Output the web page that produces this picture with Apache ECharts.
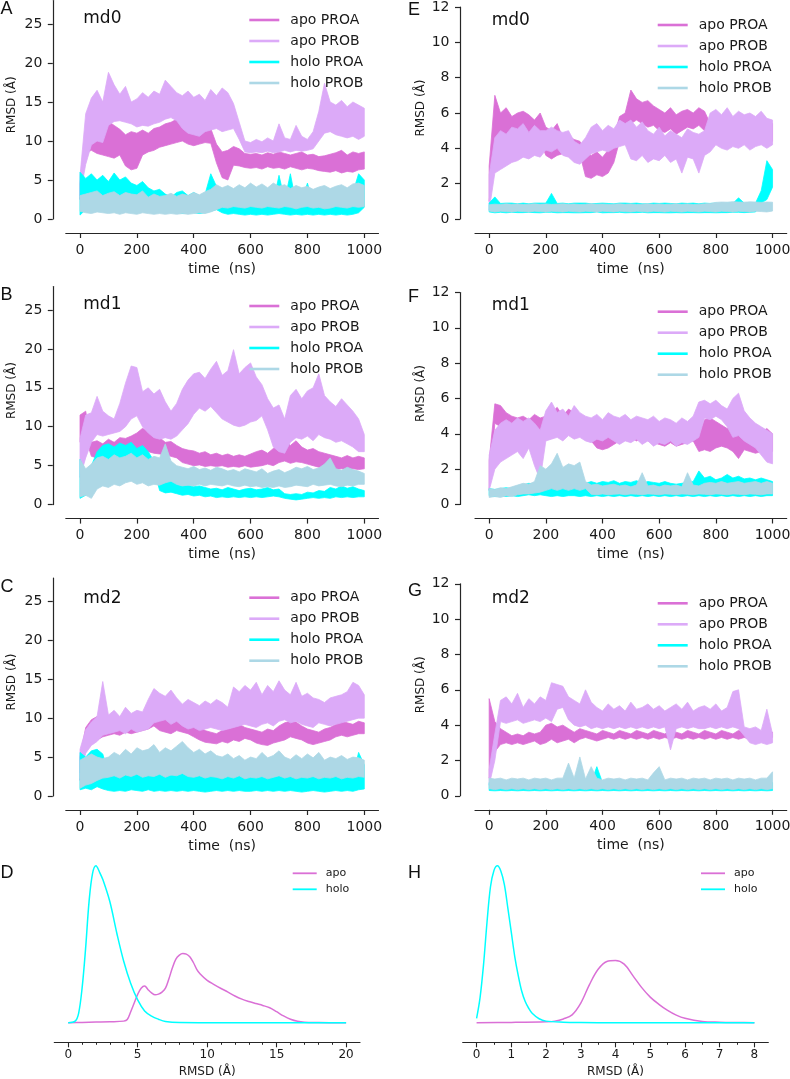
<!DOCTYPE html>
<html>
<head>
<meta charset="utf-8">
<script src="https://cdn.jsdelivr.net/npm/echarts/dist/echarts.min.js"></script>
<style>html,body{margin:0;padding:0;background:#fff}#chart{width:790px;height:1079px}</style>
</head>
<body>
<div id="chart"></div>
<script>
// ---------- data (RMSD noise band: lower / upper edge every 20 ns) ----------
const timeNs = [0,20,40,60,80,100,120,140,160,180,200,220,240,260,280,300,320,340,360,380,400,420,440,460,480,500,520,540,560,580,600,620,640,660,680,700,720,740,760,780,800,820,840,860,880,900,920,940,960,980,1000];
const seriesNames = ['apo PROA','apo PROB','holo PROA','holo PROB'];
const timeTicks = [0,200,400,600,800,1000];
const leftYTicks = [0,5,10,15,20,25];
const rightYTicks = [0,2,4,6,8,10,12];
const densDTicks = [0,5,10,15,20];
const densDMinorTicks = [0,1,2,3,4,5,6,7,8,9,10,11,12,13,14,15,16,17,18,19,20];
const densHTicks = [0,1,2,3,4,5,6,7,8];
const densHMinorTicks = [0,0.5,1,1.5,2,2.5,3,3.5,4,4.5,5,5.5,6,6.5,7,7.5,8];

// ----- A: md0, apo/holo, 0-28 Å -----
const A_apoA_lo = [2.5,8.5,8.8,8.4,8.2,8.0,7.8,8.2,6.8,6.3,
 6.5,8.2,8.6,8.8,9.2,9.4,9.6,9.8,10.0,9.6,
 9.4,9.6,9.8,9.7,7.2,5.3,5.0,6.9,6.8,6.6,
 6.5,6.6,6.4,6.7,6.5,6.6,6.4,6.7,6.5,6.3,
 6.5,6.4,6.2,6.1,6.0,6.2,5.9,6.1,6.0,6.3,
 6.4];
const A_apoA_hi = [4.5,11.5,11.2,10.8,11.5,12.5,12.0,11.5,10.8,11.2,
 11.0,11.4,11.0,11.6,11.8,12.2,12.4,12.8,12.2,11.8,
 11.6,11.8,12.0,11.6,9.6,8.6,8.8,9.3,9.0,8.4,
 8.3,8.4,8.2,8.5,8.3,8.6,8.4,8.2,8.4,8.6,
 8.2,8.3,8.0,8.1,8.3,8.5,8.8,8.2,8.6,8.4,
 8.6];
const A_apoB_lo = [3.0,7.0,9.5,10.0,9.8,12.0,12.5,12.6,12.4,12.2,
 11.8,12.0,11.9,12.2,12.4,12.8,13.0,12.6,11.6,11.0,
 10.8,10.6,11.2,11.4,11.6,11.2,11.4,11.6,10.2,8.6,
 8.5,8.6,8.5,8.7,8.5,8.6,8.8,8.6,8.8,8.7,
 8.8,9.0,10.0,11.0,11.2,10.8,10.6,10.4,10.6,10.2,
 10.6];
const A_apoB_hi = [5.5,13.5,15.5,16.5,15.0,18.8,17.2,16.0,17.0,15.0,
 15.4,16.2,15.6,16.4,16.0,17.8,17.0,16.2,15.8,16.4,
 15.6,16.0,15.2,16.6,15.8,16.8,16.2,14.8,12.4,10.0,
 9.8,10.2,9.9,10.4,10.0,12.2,10.4,10.2,12.0,10.6,
 10.2,11.2,13.8,17.4,15.0,14.6,15.2,14.4,15.0,14.6,
 14.2];
const A_holoA_lo = [0.5,1.2,2.0,1.5,2.2,1.6,2.0,1.8,1.5,1.7,
 1.4,1.2,1.3,1.0,0.9,1.0,0.8,0.9,0.7,0.8,
 0.8,0.7,0.8,1.0,1.2,0.8,0.6,0.7,0.6,0.5,
 0.6,0.5,0.6,0.5,0.6,0.7,0.6,0.5,0.6,0.5,
 0.6,0.5,0.6,0.5,0.6,0.5,0.6,0.5,0.6,0.8,
 1.5];
const A_holoA_hi = [6.0,5.2,5.8,5.0,5.6,4.8,5.9,5.0,5.4,4.6,
 4.3,4.8,4.0,3.6,3.8,3.2,2.8,3.4,3.6,3.0,
 3.4,3.0,3.2,5.8,4.2,2.2,2.0,2.4,2.0,1.8,
 2.2,1.9,2.0,3.5,2.2,5.6,2.4,5.8,2.0,2.2,
 4.6,2.0,1.8,2.0,2.2,1.9,2.6,2.8,3.4,5.8,
 5.0];
const A_holoB_lo = [1.0,0.8,0.7,0.9,0.8,0.7,0.8,0.6,0.8,0.7,
 0.6,0.8,0.7,0.6,0.7,0.6,0.7,0.6,0.7,0.6,
 0.7,0.8,0.7,0.9,1.2,1.5,1.4,1.6,1.5,1.4,
 1.6,1.5,1.4,1.6,1.5,1.4,1.6,1.5,1.3,1.5,
 1.6,1.4,1.5,1.3,1.4,1.6,1.5,1.4,1.6,1.5,
 1.6];
const A_holoB_hi = [3.0,3.2,3.4,3.6,3.0,3.3,3.5,3.0,3.4,3.2,
 3.1,3.6,2.8,3.2,2.9,3.0,3.3,2.9,3.2,3.0,
 3.4,3.1,3.5,3.8,4.4,4.0,4.3,3.9,4.4,4.0,
 4.6,4.1,4.5,4.0,4.6,4.2,4.4,3.9,4.3,4.0,
 4.2,3.8,4.1,4.3,3.9,4.2,4.4,4.0,4.5,4.6,
 4.3];

// ----- B: md1 -----
const B_apoA_lo = [8.0,8.5,6.2,6.0,6.4,6.2,6.5,6.4,6.8,6.6,
 6.8,7.0,6.8,6.6,6.5,6.4,6.2,6.0,5.4,5.2,
 5.0,5.1,4.9,5.0,4.9,5.0,4.8,4.9,4.8,5.0,
 4.8,4.9,5.0,5.2,5.0,5.4,5.6,5.3,5.5,5.4,
 5.2,5.0,4.8,4.9,4.6,4.5,4.6,4.5,4.6,4.5,
 4.6];
const B_apoA_hi = [11.5,12.0,8.0,8.2,7.8,8.4,8.0,8.6,8.5,8.8,
 9.2,9.8,9.4,8.8,8.6,8.0,8.1,7.6,7.2,7.0,
 6.9,6.6,6.8,6.4,6.6,6.3,6.5,6.2,6.4,6.2,
 6.5,6.8,7.0,6.6,7.2,8.0,8.3,7.6,8.2,7.4,
 7.0,7.2,6.8,6.6,6.4,6.2,6.0,6.3,6.0,6.2,
 6.0];
const B_apoB_lo = [3.5,6.0,8.0,9.0,8.8,9.0,9.2,9.4,10.0,11.0,
 11.4,10.0,9.2,8.6,8.4,8.6,8.4,8.8,9.6,10.4,
 11.6,12.4,12.0,12.6,11.8,11.0,10.6,10.2,10.0,10.2,
 10.6,10.8,11.4,9.6,7.4,6.8,6.6,8.0,8.6,8.4,
 8.8,8.2,9.0,8.6,8.4,8.0,8.2,7.8,7.4,6.8,
 6.8];
const B_apoB_hi = [8.5,11.5,11.8,13.9,12.0,11.4,11.0,13.0,15.6,17.8,
 17.6,14.5,15.0,14.2,14.8,13.2,12.0,13.0,14.8,16.0,
 16.8,17.0,16.2,17.4,18.4,16.6,17.2,19.9,16.8,17.6,
 18.2,16.4,15.4,13.6,12.4,12.8,11.0,14.0,14.8,13.6,
 14.6,15.0,16.8,14.0,13.2,12.6,13.6,12.8,12.0,11.0,
 9.0];
const B_holoA_lo = [0.8,1.2,1.4,3.0,4.2,4.6,5.0,4.8,5.2,5.0,
 5.4,5.0,4.8,4.6,1.8,1.5,1.6,1.4,1.2,1.3,
 1.1,1.2,1.0,1.1,0.9,1.0,0.9,1.0,0.9,1.0,
 0.9,1.0,0.9,1.0,1.1,1.0,0.8,0.7,0.6,0.7,
 0.8,0.9,0.8,0.9,0.8,1.0,0.9,1.0,0.9,1.0,
 1.0];
const B_holoA_hi = [5.8,4.0,5.0,6.8,7.6,7.8,7.4,7.9,7.6,8.0,
 7.2,7.6,6.8,5.6,3.2,2.8,3.6,2.6,2.4,2.5,
 2.3,2.4,2.2,2.0,2.1,1.9,2.2,2.0,1.8,2.0,
 2.1,1.9,2.0,2.2,1.9,2.0,1.4,1.3,1.4,1.3,
 1.6,1.5,1.8,1.7,2.2,2.0,2.4,2.1,2.3,2.0,
 1.8];
const B_holoB_lo = [1.0,1.2,0.8,2.0,2.4,2.2,2.6,2.4,2.8,3.0,
 2.6,2.8,2.4,2.6,2.5,2.8,3.0,2.6,2.4,2.5,
 2.4,2.6,2.4,2.6,2.5,2.4,2.6,2.4,2.3,2.5,
 2.3,2.4,2.2,2.3,2.2,2.4,2.2,2.3,2.5,2.4,
 2.3,2.6,2.4,2.5,2.6,2.4,2.3,2.5,2.4,2.6,
 2.6];
const B_holoB_hi = [5.8,4.6,5.2,6.0,6.2,5.8,6.4,6.0,6.2,6.6,
 6.0,6.4,5.8,6.2,6.0,7.8,5.6,5.0,4.8,4.6,
 4.9,4.5,4.7,4.4,4.8,4.6,4.3,4.5,4.2,4.6,
 4.4,4.2,4.6,4.0,4.3,4.5,4.1,4.4,4.8,4.6,
 4.9,4.5,4.7,5.2,6.0,4.6,4.4,4.8,4.5,4.3,
 4.0];

// ----- C: md2 -----
const C_apoA_lo = [2.0,6.0,6.6,7.2,7.6,7.8,8.0,7.8,8.2,8.0,
 8.2,8.4,8.6,9.0,8.4,8.2,8.0,8.4,8.2,8.0,
 7.6,7.2,6.9,6.8,6.7,7.0,6.8,7.2,7.0,7.4,
 7.2,6.8,6.6,6.5,6.8,7.0,7.2,7.6,7.4,7.2,
 6.8,6.6,6.8,7.0,7.2,7.6,7.8,7.6,7.8,8.0,
 8.0];
const C_apoA_hi = [5.0,8.8,9.8,10.2,9.6,10.0,10.4,9.8,10.2,10.4,
 10.0,10.6,11.0,10.6,10.2,9.8,10.2,10.0,10.4,9.6,
 9.4,9.0,8.4,8.2,8.0,8.4,8.6,8.8,9.2,8.8,
 8.6,8.4,8.2,8.6,8.4,9.0,9.4,9.6,9.5,9.0,
 8.6,8.4,8.2,8.6,8.8,9.2,9.6,9.4,9.2,9.6,
 9.4];
const C_apoB_lo = [3.0,5.5,6.5,7.0,7.8,8.0,8.2,8.4,8.0,8.6,
 8.2,8.4,8.6,9.4,9.6,9.8,9.2,9.6,9.0,8.6,
 8.8,8.4,8.6,8.8,8.6,8.4,8.6,8.8,9.0,9.2,
 9.0,8.8,9.2,9.4,9.0,9.6,9.8,9.4,9.6,9.2,
 9.0,8.8,9.4,9.2,9.0,9.2,9.4,9.6,9.8,10.0,
 10.0];
const C_apoB_hi = [6.0,8.5,9.5,10.2,14.7,10.4,11.0,10.2,11.4,10.6,
 11.0,10.8,12.4,13.8,13.2,12.8,13.6,12.6,11.8,12.4,
 12.0,11.6,12.2,11.8,12.4,12.0,11.4,14.0,13.4,14.2,
 13.6,14.6,13.0,14.2,13.4,14.8,13.6,13.0,14.6,12.8,
 13.2,12.6,12.4,12.0,12.6,12.8,13.0,13.4,14.6,14.2,
 13.0];
const C_holoA_lo = [0.8,1.0,0.8,1.2,0.9,0.7,0.6,0.7,0.6,0.8,
 0.7,0.6,0.8,0.6,0.7,0.6,0.7,0.6,0.7,0.6,
 0.7,0.6,0.5,0.6,0.7,0.6,0.7,0.6,0.7,0.6,
 0.6,0.7,0.6,0.7,0.6,0.7,0.6,0.7,0.6,0.5,
 0.6,0.7,0.6,0.5,0.6,0.7,0.6,0.7,0.6,0.8,
 0.9];
const C_holoA_hi = [5.6,5.0,5.8,6.0,5.4,3.0,2.6,3.2,2.8,3.4,
 2.9,3.3,2.7,3.1,2.8,3.0,2.6,3.2,3.4,2.8,
 2.6,2.9,2.5,2.7,2.4,2.6,2.8,2.5,2.9,2.7,
 2.6,2.8,2.5,2.7,2.4,2.6,2.9,2.5,2.7,2.6,
 2.8,2.5,2.3,2.6,2.4,2.6,2.5,2.8,2.6,5.6,
 4.0];
const C_holoB_lo = [1.0,1.4,1.6,2.0,2.3,2.4,2.6,2.3,2.7,2.5,
 2.8,2.4,2.6,2.5,2.8,2.4,2.7,2.6,2.9,2.5,
 2.4,2.6,2.3,2.5,2.4,2.2,2.5,2.3,2.6,2.2,
 2.4,2.3,2.5,2.2,2.4,2.6,2.3,2.5,2.2,2.4,
 2.3,2.5,2.2,2.4,2.3,2.5,2.2,2.4,2.3,2.5,
 2.4];
const C_holoB_hi = [4.6,5.0,5.4,5.0,4.8,5.0,5.6,5.2,6.0,5.4,
 6.2,5.8,6.0,6.6,5.6,6.2,5.8,6.4,7.0,6.2,
 5.6,6.0,5.4,5.8,5.2,5.0,5.4,4.8,5.2,4.6,
 5.0,4.8,5.6,4.9,5.2,5.8,5.0,4.7,5.3,4.8,
 5.4,4.9,5.6,4.6,5.0,4.8,5.2,4.7,5.0,4.9,
 4.6];

// ----- E: md0, 0-12 Å -----
const E_apoA_lo = [1.0,4.6,4.8,4.5,4.7,4.4,4.3,4.6,4.2,4.4,
 3.6,3.4,3.6,3.7,3.8,3.6,3.7,2.4,2.3,2.5,
 2.4,2.6,3.2,4.4,4.6,5.4,5.6,5.4,5.2,5.3,
 5.0,4.9,5.1,4.8,5.0,5.2,5.1,5.3,5.0,4.6,
 4.4,4.3,4.5,4.4,4.6,4.4,4.5,4.3,4.5,4.4,
 4.4];
const E_apoA_hi = [3.0,7.0,6.0,6.3,5.8,6.0,6.1,5.9,5.6,6.0,
 5.2,5.0,5.4,4.6,4.7,4.5,4.4,3.8,3.6,3.8,
 3.5,3.9,4.6,5.8,6.0,7.3,6.8,6.6,6.7,6.4,
 6.2,6.0,6.3,5.9,6.1,6.2,6.0,6.3,6.1,5.4,
 5.6,5.2,5.5,5.3,5.6,5.3,5.5,5.4,5.2,5.5,
 5.4];
const E_apoB_lo = [0.5,2.6,2.8,3.0,3.2,3.3,3.5,3.4,3.6,3.5,
 3.9,3.8,4.0,3.6,3.5,3.2,3.1,3.4,3.7,3.8,
 3.9,3.8,4.0,4.1,4.2,3.4,3.3,3.6,3.2,3.4,
 3.3,3.6,3.2,3.4,2.6,3.5,3.4,2.6,3.6,3.8,
 4.2,4.0,3.9,4.1,4.0,4.2,3.9,4.1,4.2,4.0,
 4.2];
const E_apoB_hi = [2.5,4.6,5.0,4.8,5.2,5.1,5.4,4.9,5.3,5.0,
 5.0,5.2,5.0,4.9,5.0,4.4,4.2,4.6,5.2,5.4,
 5.0,5.3,5.1,5.6,5.4,5.6,5.2,5.5,5.0,4.8,
 5.2,4.7,5.0,4.8,4.6,5.1,4.9,4.8,5.0,6.0,
 6.2,5.9,6.3,5.8,6.1,5.9,6.0,5.8,6.1,5.7,
 5.6];
const E_holoA_lo = [0.4,0.35,0.38,0.35,0.38,0.36,0.36,0.38,0.36,0.35,
 0.38,0.38,0.35,0.36,0.36,0.35,0.35,0.36,0.36,0.4,
 0.35,0.36,0.36,0.38,0.35,0.36,0.36,0.38,0.35,0.36,
 0.36,0.35,0.35,0.36,0.35,0.36,0.36,0.35,0.36,0.36,
 0.35,0.36,0.36,0.38,0.38,0.36,0.38,0.4,0.9,1.1,
 1.8];
const E_holoA_hi = [0.9,1.25,0.88,0.9,0.9,0.86,0.9,0.86,0.9,0.9,
 0.9,1.45,0.88,0.9,0.86,0.9,0.9,0.9,0.86,0.88,
 0.9,0.88,0.86,0.9,0.9,0.88,0.9,0.86,0.86,0.9,
 0.88,0.9,0.88,0.86,0.9,0.88,0.9,0.86,0.9,0.88,
 0.9,0.86,0.9,0.88,1.2,0.9,0.88,0.9,1.6,3.3,
 2.8];
const E_holoB_lo = [0.45,0.4,0.44,0.42,0.4,0.44,0.42,0.4,0.44,0.42,
 0.4,0.44,0.42,0.4,0.44,0.42,0.4,0.44,0.42,0.4,
 0.44,0.42,0.4,0.44,0.42,0.4,0.44,0.42,0.4,0.44,
 0.42,0.4,0.44,0.42,0.4,0.44,0.42,0.4,0.44,0.42,
 0.4,0.44,0.42,0.4,0.44,0.42,0.4,0.44,0.42,0.4,
 0.45];
const E_holoB_hi = [0.8,0.84,0.82,0.86,0.83,0.85,0.82,0.84,0.86,0.83,
 0.85,0.82,0.84,0.86,0.83,0.85,0.82,0.84,0.86,0.83,
 0.85,0.82,0.84,0.86,0.83,0.85,0.82,0.84,0.86,0.83,
 0.85,0.82,0.84,0.86,0.83,0.85,0.82,0.84,0.86,0.88,
 0.94,0.96,0.95,0.98,0.96,0.95,0.97,0.96,0.94,0.96,
 0.95];

// ----- F: md1 -----
const F_apoA_lo = [0.8,4.6,4.4,4.2,4.3,4.1,4.0,4.3,4.2,4.1,
 4.0,4.3,4.2,4.1,4.4,4.2,4.0,3.9,3.6,3.2,
 3.1,3.2,3.4,3.6,3.7,3.8,3.6,3.8,3.6,3.5,
 3.4,3.3,3.5,3.3,3.4,3.5,3.6,3.0,3.1,3.0,
 3.2,3.3,3.2,3.0,2.6,3.1,3.0,2.9,3.0,3.1,
 3.0];
const F_apoA_hi = [2.5,5.7,5.6,5.2,5.0,4.9,5.0,4.8,5.1,4.9,
 5.0,5.2,5.5,5.0,5.4,5.2,5.0,4.6,4.4,4.0,
 3.9,3.8,3.9,4.4,4.5,4.6,4.4,4.6,4.5,4.4,
 4.2,4.0,4.2,4.0,4.3,4.2,4.4,4.0,4.8,4.9,
 4.7,4.5,4.3,4.4,4.2,4.4,4.2,4.4,4.1,4.3,
 4.0];
const F_apoB_lo = [0.8,2.0,2.4,2.6,2.8,3.0,2.6,3.2,2.2,1.4,
 3.6,3.7,3.8,3.6,3.9,3.7,3.8,3.6,3.5,3.7,
 3.6,3.8,3.6,3.4,3.6,3.5,3.7,3.4,3.6,3.3,
 3.5,3.4,3.6,3.3,3.5,3.4,3.6,3.8,4.9,4.8,
 5.0,4.8,4.4,3.8,3.9,3.6,3.4,3.2,2.8,2.4,
 2.3];
const F_apoB_hi = [2.8,4.2,4.6,4.8,4.6,4.9,4.7,4.9,4.6,4.2,
 5.3,5.8,5.2,5.4,5.0,5.6,5.2,5.0,4.9,5.1,
 4.8,5.2,5.0,4.9,5.1,4.8,5.0,4.9,4.8,5.0,
 4.7,4.9,4.8,4.6,4.9,4.7,5.0,5.8,5.9,5.7,
 5.9,5.6,5.4,6.0,6.3,5.3,4.9,4.6,4.4,4.2,
 4.0];
const F_holoA_lo = [0.5,0.45,0.5,0.45,0.5,0.45,0.5,0.55,0.5,0.55,
 0.5,0.45,0.5,0.45,0.5,0.5,0.45,0.5,0.45,0.5,
 0.45,0.5,0.45,0.5,0.45,0.5,0.45,0.5,0.45,0.5,
 0.45,0.5,0.45,0.5,0.45,0.5,0.45,0.5,0.45,0.5,
 0.45,0.5,0.45,0.5,0.45,0.5,0.45,0.5,0.45,0.5,
 0.5];
const F_holoA_hi = [0.9,0.85,0.9,0.95,0.9,1.0,1.1,1.2,1.15,1.2,
 1.0,1.05,1.0,1.1,1.0,1.0,1.5,1.2,1.3,1.2,
 1.3,1.25,1.35,1.2,1.3,1.25,1.35,1.2,1.3,1.25,
 1.2,1.3,1.2,1.15,1.2,1.25,1.3,1.9,1.5,1.6,
 1.4,1.5,1.7,1.5,1.6,1.45,1.5,1.4,1.5,1.4,
 1.3];
const F_holoB_lo = [0.4,0.45,0.4,0.5,0.45,0.55,0.6,0.6,0.65,0.7,
 0.8,0.9,0.8,0.9,0.8,0.9,0.8,0.9,0.58,0.55,
 0.6,0.55,0.58,0.6,0.55,0.6,0.58,0.55,0.6,0.58,
 0.55,0.6,0.58,0.55,0.6,0.58,0.55,0.6,0.58,0.55,
 0.6,0.58,0.55,0.6,0.58,0.55,0.6,0.58,0.55,0.6,
 0.6];
const F_holoB_hi = [0.9,0.85,0.95,0.9,1.0,1.1,1.2,1.15,1.3,2.2,
 2.0,2.3,2.9,2.1,2.3,2.2,2.4,1.3,1.1,1.15,
 1.05,1.1,1.15,1.05,1.1,1.0,1.1,1.8,1.05,1.1,
 1.0,1.1,1.05,1.1,1.0,1.8,1.1,1.05,1.2,1.25,
 1.2,1.3,1.2,1.25,1.3,1.2,1.25,1.3,1.2,1.3,
 1.2];

// ----- G: md2 -----
const G_apoA_lo = [1.0,2.5,2.9,3.0,2.9,3.0,2.9,3.0,3.1,2.9,
 3.0,3.2,3.0,3.1,3.2,3.0,3.2,3.3,3.2,3.1,
 3.2,3.3,3.2,3.3,3.2,3.3,3.2,3.3,3.2,3.3,
 3.2,3.3,3.2,3.3,3.2,3.3,3.2,3.3,3.2,3.3,
 3.2,3.3,3.2,3.3,3.2,3.3,3.2,3.3,3.2,3.3,
 3.3];
const G_apoA_hi = [5.5,4.2,3.8,3.6,3.4,3.5,3.4,3.6,3.5,3.6,
 4.0,4.1,3.9,4.0,3.8,3.6,3.8,3.7,3.6,3.5,
 3.7,3.6,3.5,3.7,3.6,3.5,3.7,3.6,3.5,3.7,
 3.6,3.5,3.7,3.6,3.5,3.7,3.6,3.5,3.7,3.6,
 3.5,3.7,3.6,3.5,3.7,3.6,3.5,3.7,3.6,3.5,
 3.6];
const G_apoB_lo = [0.6,2.0,4.2,4.1,4.2,4.3,4.1,4.2,4.3,4.2,
 4.4,4.2,4.9,5.0,4.3,4.0,3.9,4.0,3.8,3.9,
 3.8,3.9,3.8,3.9,3.8,3.9,3.8,3.9,3.8,3.9,
 3.8,3.9,2.6,3.8,3.9,3.8,3.9,3.8,3.8,3.9,
 3.8,3.9,3.8,3.9,3.8,3.4,3.0,2.9,3.0,2.9,
 3.0];
const G_apoB_hi = [1.5,3.5,5.4,5.6,5.2,5.8,5.0,5.5,5.2,5.6,
 5.4,6.4,6.3,6.2,5.6,5.4,5.2,6.0,5.3,5.0,
 4.8,5.2,4.9,5.1,4.8,5.3,4.9,5.0,5.2,4.9,
 5.1,4.8,5.0,5.2,4.9,5.3,4.8,5.0,5.1,4.9,
 5.2,4.8,5.0,5.9,6.0,3.9,3.8,3.9,3.7,4.9,
 3.5];
const G_holoA_lo = [0.3,0.28,0.3,0.28,0.3,0.28,0.3,0.28,0.3,0.28,
 0.3,0.28,0.3,0.28,0.3,0.28,0.3,0.28,0.3,0.28,
 0.3,0.28,0.3,0.28,0.3,0.28,0.3,0.28,0.3,0.28,
 0.3,0.28,0.3,0.28,0.3,0.28,0.3,0.28,0.3,0.28,
 0.3,0.28,0.3,0.28,0.3,0.28,0.3,0.28,0.3,0.28,
 0.3];
const G_holoA_hi = [0.75,0.7,0.75,0.72,0.75,0.7,0.75,0.72,0.75,0.7,
 0.75,0.72,0.75,0.7,0.75,0.72,0.75,0.7,0.75,1.65,
 0.75,0.72,0.75,0.7,0.75,0.72,0.75,0.7,0.75,0.72,
 0.75,0.7,0.75,0.72,0.75,0.7,0.75,0.72,0.75,0.7,
 0.75,0.72,0.75,0.7,0.75,0.72,0.75,0.7,0.75,0.72,
 0.75];
const G_holoB_lo = [0.4,0.35,0.4,0.35,0.4,0.35,0.4,0.35,0.4,0.35,
 0.4,0.35,0.4,0.35,0.4,0.35,0.4,0.35,0.4,0.35,
 0.4,0.35,0.4,0.35,0.4,0.35,0.4,0.35,0.4,0.35,
 0.4,0.35,0.4,0.35,0.4,0.35,0.4,0.35,0.4,0.35,
 0.4,0.35,0.4,0.35,0.4,0.35,0.4,0.35,0.4,0.35,
 0.4];
const G_holoB_hi = [1.0,0.95,1.0,0.9,1.0,0.95,1.0,0.9,1.0,0.95,
 1.0,0.9,1.0,1.0,1.85,1.0,2.2,0.95,1.65,1.0,
 0.9,1.0,0.95,1.0,0.9,1.0,0.95,1.0,0.9,1.3,
 1.65,0.9,1.0,0.95,1.0,0.9,1.0,0.95,1.0,0.9,
 1.0,0.95,1.0,0.9,1.0,0.95,1.0,0.9,1.0,1.0,
 1.36];

// density (D) - relative units
const densD_holoX = [0,0.5,0.75,1,1.25,1.5,1.75,2,2.25,2.5,3,3.5,4,4.5,5,5.5,6,6.5,7,8,10,12,14,16,18,20];
const densD_holoY = [0,0.01,0.06,0.22,0.47,0.77,0.95,1.0,0.96,0.91,0.77,0.57,0.39,0.25,0.145,0.075,0.042,0.022,0.008,0.001,0,0,0,0,0,0];
const densD_apoX = [0,1,2,3,4,4.25,4.5,4.75,5,5.25,5.5,5.75,6,6.25,6.5,6.75,7,7.25,7.5,7.75,8,8.25,8.5,8.75,9,9.25,9.5,10,10.5,11,11.5,12,12.5,13,13.5,14,14.5,15,15.5,16,16.5,17,18,19,20];
const densD_apoY = [0,0.002,0.004,0.006,0.01,0.02,0.07,0.125,0.18,0.22,0.234,0.21,0.19,0.178,0.182,0.195,0.22,0.28,0.35,0.405,0.43,0.44,0.437,0.42,0.385,0.34,0.31,0.27,0.243,0.218,0.195,0.17,0.15,0.135,0.122,0.11,0.095,0.07,0.043,0.022,0.009,0.003,0.001,0,0];
// density (H)
const densH_holoX = [0,0.1,0.2,0.3,0.4,0.5,0.6,0.7,0.8,0.9,1.0,1.1,1.2,1.3,1.4,1.5,1.6,1.8,2.0,2.5,3,4,5,6,7,8];
const densH_holoY = [0.028,0.16,0.37,0.64,0.866,0.97,1.0,0.965,0.88,0.73,0.575,0.42,0.3,0.2,0.135,0.092,0.06,0.025,0.01,0.003,0.001,0,0,0,0,0];
const densH_apoX = [0,1,2,2.25,2.5,2.75,3,3.25,3.5,3.75,4,4.25,4.5,4.75,5,5.25,5.5,5.75,6,6.5,7,7.5,8];
const densH_apoY = [0,0.002,0.006,0.01,0.024,0.05,0.125,0.243,0.34,0.39,0.396,0.373,0.3,0.225,0.163,0.117,0.078,0.048,0.028,0.008,0.003,0.001,0];

// ---------- styling ----------
const FONT = 'DejaVu Sans';
const TXT = '#1a1a1a';
const AX = '#262626';
const COLORS = ['#DA70D6','#DCAAF8','#00FFFF','#ADD8E6'];

const grids = [
  {left:65.8, top:0.6,   width:312.7, height:218.4},
  {left:65.8, top:286.6, width:312.7, height:218},
  {left:65.8, top:578,   width:312.7, height:218},
  {left:475,  top:7,     width:311.7, height:212},
  {left:475,  top:292.5, width:311.7, height:212},
  {left:475,  top:583.8, width:311.7, height:212},
  {left:54.3, top:857.85, width:305.7, height:164.85},
  {left:462.7,top:857.85, width:305.6, height:164.85}
].map(g => Object.assign({outerBoundsMode:'none', containLabel:false}, g));

function pairs(xs, ys){ return xs.map((x,i)=>[x, ys[i]]); }
const plainNum = v => String(v);

const axisLine = {show:true, onZero:false, lineStyle:{color:AX, width:1.2}};
function timeX(gi){
  return {type:'value', gridIndex:gi, min:-50, max:1050, position:'bottom', offset:14,
    name:'time  (ns)', nameLocation:'middle', nameGap:29,
    nameTextStyle:{fontFamily:FONT, fontSize:14, color:TXT},
    axisLine:axisLine,
    axisTick:{show:true, customValues:timeTicks, length:5, lineStyle:{color:AX, width:1.2}},
    axisLabel:{show:true, customValues:timeTicks, formatter:plainNum, margin:10, fontFamily:FONT, fontSize:14, color:TXT},
    splitLine:{show:false}};
}
function timeY(gi, max, ticks, off, gap){
  return {type:'value', gridIndex:gi, min:0, max:max, position:'left', offset:off,
    name:'RMSD (Å)', nameLocation:'middle', nameGap:gap, nameRotate:90,
    nameTextStyle:{fontFamily:FONT, fontSize:12, color:TXT, padding:[0,0,0,10]},
    axisLine:axisLine,
    axisTick:{show:true, customValues:ticks, length:5, lineStyle:{color:AX, width:1.2}},
    axisLabel:{show:true, customValues:ticks, formatter:plainNum, margin:10.5, fontFamily:FONT, fontSize:14, color:TXT},
    splitLine:{show:false}};
}
function densX(gi, min, max, ticks){
  return {type:'value', gridIndex:gi, min:min, max:max, position:'bottom', offset:19.6,
    name:'RMSD (Å)', nameLocation:'middle', nameGap:24,
    nameTextStyle:{fontFamily:FONT, fontSize:12, color:TXT},
    axisLine:axisLine,
    axisTick:{show:true, customValues:ticks, length:5, lineStyle:{color:AX, width:1.1}},
    axisLabel:{show:true, customValues:ticks, formatter:plainNum, margin:6.5, fontFamily:FONT, fontSize:12, color:TXT},
    splitLine:{show:false}};
}
function densMinorX(gi, min, max, ticks){
  return {type:'value', gridIndex:gi, min:min, max:max, position:'bottom', offset:19.6,
    axisLine:{show:false, onZero:false},
    axisTick:{show:true, customValues:ticks, length:2.5, lineStyle:{color:AX, width:1}},
    axisLabel:{show:false}, splitLine:{show:false}};
}

const xAxis = [timeX(0),timeX(1),timeX(2),timeX(3),timeX(4),timeX(5),
  densX(6,-1,21,densDTicks), densMinorX(6,-1,21,densDMinorTicks),
  densX(7,-0.4,8.4,densHTicks), densMinorX(7,-0.4,8.4,densHMinorTicks)];
const yAxis = [timeY(0,28,leftYTicks,13,35), timeY(1,28,leftYTicks,13,35), timeY(2,28,leftYTicks,13,35),
  timeY(3,12,rightYTicks,15,33), timeY(4,12,rightYTicks,15,33), timeY(5,12,rightYTicks,15,33),
  {type:'value', gridIndex:6, min:0, max:1.05, show:false},
  {type:'value', gridIndex:7, min:0, max:1.05, show:false}];

const panels = [
  [[A_apoA_lo,A_apoA_hi],[A_apoB_lo,A_apoB_hi],[A_holoA_lo,A_holoA_hi],[A_holoB_lo,A_holoB_hi]],
  [[B_apoA_lo,B_apoA_hi],[B_apoB_lo,B_apoB_hi],[B_holoA_lo,B_holoA_hi],[B_holoB_lo,B_holoB_hi]],
  [[C_apoA_lo,C_apoA_hi],[C_apoB_lo,C_apoB_hi],[C_holoA_lo,C_holoA_hi],[C_holoB_lo,C_holoB_hi]],
  [[E_apoA_lo,E_apoA_hi],[E_apoB_lo,E_apoB_hi],[E_holoA_lo,E_holoA_hi],[E_holoB_lo,E_holoB_hi]],
  [[F_apoA_lo,F_apoA_hi],[F_apoB_lo,F_apoB_hi],[F_holoA_lo,F_holoA_hi],[F_holoB_lo,F_holoB_hi]],
  [[G_apoA_lo,G_apoA_hi],[G_apoB_lo,G_apoB_hi],[G_holoA_lo,G_holoA_hi],[G_holoB_lo,G_holoB_hi]]
];

// band series: polygon between lower and upper edge, mapped through the axis scales
function bandSeries(name, color, ai, lo, hi){
  const rows = timeNs.map((t,i)=>[t, lo[i], hi[i]]);
  return {type:'custom', name:name, xAxisIndex:ai, yAxisIndex:ai, data:rows,
    encode:{x:0, y:[1,2]}, color:color, itemStyle:{color:color}, silent:true,
    renderItem:function(params, api){
      if (params.dataIndex !== 0) return null;
      const pts = [];
      for (let i=0;i<rows.length;i++) pts.push(api.coord([rows[i][0], rows[i][2]]));
      for (let i=rows.length-1;i>=0;i--) pts.push(api.coord([rows[i][0], rows[i][1]]));
      return {type:'polygon', shape:{points:pts}, style:{fill:color, stroke:color, lineWidth:0.8, lineJoin:'bevel'}};
    }};
}
const series = [];
panels.forEach((bands, pi) => {
  bands.forEach((b, si) => series.push(bandSeries(seriesNames[si], COLORS[si], pi, b[0], b[1])));
});
function densSeries(name, color, xi, yi, xs, ys){
  return {type:'line', name:name, xAxisIndex:xi, yAxisIndex:yi, data:pairs(xs, ys),
    showSymbol:false, symbol:'none', smooth:0.35, clip:false, silent:true,
    color:color, itemStyle:{color:color}, lineStyle:{color:color, width:1.5}};
}
series.push(densSeries('apo','#DA70D6',6,6,densD_apoX,densD_apoY));
series.push(densSeries('holo','#00FFFF',6,6,densD_holoX,densD_holoY));
series.push(densSeries('apo','#DA70D6',8,7,densH_apoX,densH_apoY));
series.push(densSeries('holo','#00FFFF',8,7,densH_holoX,densH_holoY));

function tsLegend(left, top){
  return {show:true, orient:'vertical', left:left, top:top, padding:0, itemGap:0,
    itemWidth:30, itemHeight:2.6, icon:'rect',
    itemStyle:{borderWidth:0, borderColor:'rgba(0,0,0,0)'},
    selectedMode:false, data:seriesNames,
    textStyle:{fontFamily:FONT, fontSize:14, lineHeight:21, color:TXT, padding:[0,0,0,6]}};
}
function dLegend(left, top){
  return {show:true, orient:'vertical', left:left, top:top, padding:0, itemGap:0,
    itemWidth:24, itemHeight:1.8, icon:'rect',
    itemStyle:{borderWidth:0, borderColor:'rgba(0,0,0,0)'},
    selectedMode:false, data:['apo','holo'],
    textStyle:{fontFamily:FONT, fontSize:11, lineHeight:16, color:TXT, padding:[0,0,0,4]}};
}
const legend = [tsLegend(249.3,9.5), tsLegend(249.3,295.5), tsLegend(249.3,587.2),
  tsLegend(657.7,14.5), tsLegend(657.7,301.2), tsLegend(657.7,592.8),
  dLegend(292.7,865.3), dLegend(701,865.3)];

function label(txt, x, y, size, fam){
  return {type:'text', x:x, y:y, silent:true,
    style:{text:txt, fontSize:size, fontFamily:fam, fill:'#111', verticalAlign:'middle', align:'left'}};
}
const graphic = [
  label('A',0.5,9.5,18,'Liberation Sans'), label('B',0.5,295.5,18,'Liberation Sans'),
  label('C',0.5,587,18,'Liberation Sans'), label('D',0.5,873.3,18,'Liberation Sans'),
  label('E',408,10.5,18,'Liberation Sans'), label('F',408,297.5,18,'Liberation Sans'),
  label('G',408,591,18,'Liberation Sans'), label('H',408,873.3,18,'Liberation Sans'),
  label('md0',83.3,19,17,FONT), label('md1',83.3,305,17,FONT), label('md2',83.3,599,17,FONT),
  label('md0',491.7,20.7,17,FONT), label('md1',491.7,305.7,17,FONT), label('md2',491.7,599,17,FONT)
];

const chart = echarts.init(document.getElementById('chart'), null, {renderer:'canvas', width:790, height:1079});
chart.setOption({
  animation:false,
  backgroundColor:'#ffffff',
  textStyle:{fontFamily:FONT},
  grid:grids, xAxis:xAxis, yAxis:yAxis, series:series, legend:legend, graphic:graphic
});
</script>
</body>
</html>
